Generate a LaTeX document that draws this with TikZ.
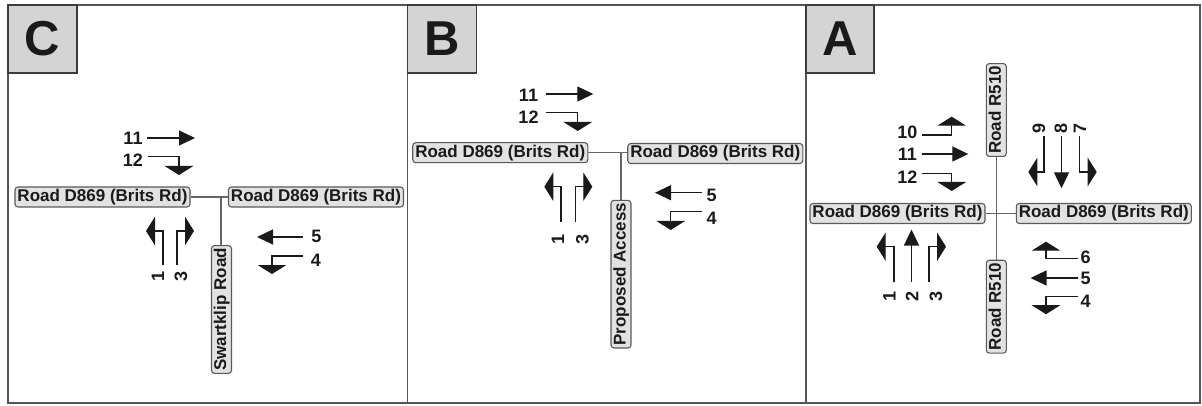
\documentclass[tikz,border=0pt]{standalone}
\usepackage{fontspec}
\setmainfont{Liberation Sans}
\usetikzlibrary{arrows.meta}
\definecolor{ink}{HTML}{1A1A1A}
\definecolor{framec}{HTML}{555555}
\definecolor{hdrfill}{HTML}{D4D4D4}
\definecolor{roadfill}{HTML}{E2E2E2}
\definecolor{roadedge}{HTML}{5A5A5A}
\definecolor{roadline}{HTML}{666666}
\begin{document}
\begin{tikzpicture}[x=1pt,y=-1pt,
  panel/.style={draw=framec,line width=1.5pt},
  hdr/.style={draw=ink!85,fill=hdrfill,line width=1.3pt,minimum width=69pt,minimum height=68pt,inner sep=0pt,
    font=\fontsize{49}{49}\selectfont\bfseries,text=ink},
  roadlbl/.style={draw=roadedge,fill=roadfill,rounded corners=3pt,line width=1.1pt,
    font=\fontsize{17}{20}\selectfont\bfseries,text=ink,inner xsep=2.5pt,inner ysep=2pt,
    text height=12.5pt,text depth=3.5pt},
  road/.style={draw=roadline,line width=1.3pt},
  mv/.style={draw=ink,line width=1.2pt},
  thru/.style={-{Triangle[length=16pt,width=15pt]}},
  turn/.style={-{Triangle[length=9pt,width=28.5pt]}},
  num/.style={font=\fontsize{18}{20}\selectfont\bfseries,text=ink,inner sep=0pt},
  rnum/.style={num,rotate=90}]
\useasboundingbox (0,0) rectangle (1202,406);
% ---------- frames ----------
\draw[panel] (8,5) rectangle (1200,403);
\draw[panel] (407.5,5) -- (407.5,403);
\draw[panel] (806,5) -- (806,403);
\node[hdr] (hC) at (42.5,39) {C};
\node[hdr] (hB) at (442,39) {B};
\node[hdr,minimum width=68pt] (hA) at (840,39) {A};

% ================= Panel C =================
\coordinate (cJ) at (221,197);
\node[roadlbl] (cW) at (102.5,197) {Road D869 (Brits Rd)};
\node[roadlbl] (cE) at (316,197) {Road D869 (Brits Rd)};
\node[roadlbl,rotate=90] (cS) at (221.5,309.5) {Swartklip Road};
\draw[road] (cW.east) -- (cE.west);
\draw[road] (cJ) -- (cJ |- cS.east);

\node[num] (c11) at (133,138.5) {11};
\coordinate (c11a) at (147,138); \coordinate (c11b) at (195,138);
\draw[mv,thru] (c11a) -- (c11b);
\node[num] (c12) at (133,160) {12};
\coordinate (c12a) at (148,156.5); \coordinate (c12b) at (179,175);
\draw[mv,turn] (c12a) -| (c12b);
\node[rnum] (c1) at (158,276) {1};
\coordinate (c1a) at (163,265); \coordinate (c1b) at (146,231);
\draw[mv,turn] (c1a) |- (c1b);
\node[rnum] (c3) at (181,276) {3};
\coordinate (c3a) at (177,265); \coordinate (c3b) at (194,231);
\draw[mv,turn] (c3a) |- (c3b);
\node[num] (c5) at (316.5,236.5) {5};
\coordinate (c5a) at (303,237); \coordinate (c5b) at (257,237);
\draw[mv,thru] (c5a) -- (c5b);
\node[num] (c4) at (316,260) {4};
\coordinate (c4a) at (303,256); \coordinate (c4b) at (272,274);
\draw[mv,turn] (c4a) -| (c4b);

% ================= Panel B =================
\coordinate (bJ) at (621,152.7);
\node[roadlbl] (bW) at (500.3,152.7) {Road D869 (Brits Rd)};
\node[roadlbl] (bE) at (715.3,153.5) {Road D869 (Brits Rd)};
\node[roadlbl,rotate=90] (bS) at (621,274.2) {Proposed Access};
\draw[road] (bW.east) -- (bE.west |- bJ);
\draw[road] (bJ) -- (bJ |- bS.east);

\node[num] (b11) at (528.5,95) {11};
\coordinate (b11a) at (545.7,94); \coordinate (b11b) at (593.3,94);
\draw[mv,thru] (b11a) -- (b11b);
\node[num] (b12) at (528.5,117) {12};
\coordinate (b12a) at (545.7,112.3); \coordinate (b12b) at (577.7,131);
\draw[mv,turn] (b12a) -| (b12b);
\node[rnum] (b1) at (558,239) {1};
\coordinate (b1a) at (561,221.7); \coordinate (b1b) at (544.3,186.7);
\draw[mv,turn] (b1a) |- (b1b);
\node[rnum] (b3) at (582.5,239) {3};
\coordinate (b3a) at (575.7,221.7); \coordinate (b3b) at (592.3,186.7);
\draw[mv,turn] (b3a) |- (b3b);
\node[num] (b5) at (711.7,195) {5};
\coordinate (b5a) at (701.7,192.7); \coordinate (b5b) at (655,192.7);
\draw[mv,thru] (b5a) -- (b5b);
\node[num] (b4) at (711.7,218) {4};
\coordinate (b4a) at (701.7,211.7); \coordinate (b4b) at (670.7,230);
\draw[mv,turn] (b4a) -| (b4b);

% ================= Panel A =================
\node[roadlbl] (aW) at (897.5,213.5) {Road D869 (Brits Rd)};
\node[roadlbl] (aE) at (1103.8,213.5) {Road D869 (Brits Rd)};
\node[roadlbl,rotate=90] (aN) at (996.3,110) {Road R510};
\node[roadlbl,rotate=90] (aS) at (996.3,306.7) {Road R510};
\draw[road] (aW.east) -- (aE.west);
\draw[road] (aN.west) -- (aS.east);

\node[num] (a10) at (907.3,132.7) {10};
\coordinate (a10a) at (921.7,135); \coordinate (a10b) at (951.7,116.7);
\draw[mv,turn] (a10a) -| (a10b);
\node[num] (a11) at (907.3,154) {11};
\coordinate (a11a) at (921.7,154); \coordinate (a11b) at (968.3,154);
\draw[mv,thru] (a11a) -- (a11b);
\node[num] (a12) at (907.3,177.5) {12};
\coordinate (a12a) at (921.7,173.3); \coordinate (a12b) at (951.7,191);
\draw[mv,turn] (a12a) -| (a12b);

\node[rnum] (a1) at (889.5,296.5) {1};
\coordinate (a1a) at (894,281.7); \coordinate (a1b) at (876.7,246.7);
\draw[mv,turn] (a1a) |- (a1b);
\node[rnum] (a2) at (912,296.5) {2};
\coordinate (a2a) at (911.5,281.7); \coordinate (a2b) at (911.5,229.5);
\draw[mv,thru] (a2a) -- (a2b);
\node[rnum] (a3) at (936,296.5) {3};
\coordinate (a3a) at (929,281.7); \coordinate (a3b) at (946,246.7);
\draw[mv,turn] (a3a) |- (a3b);

\node[rnum] (a9) at (1039,128.3) {9};
\coordinate (a9a) at (1044,136); \coordinate (a9b) at (1028.3,172);
\draw[mv,turn] (a9a) |- (a9b);
\node[rnum] (a8) at (1061,128.3) {8};
\coordinate (a8a) at (1061.5,136); \coordinate (a8b) at (1061.5,188.3);
\draw[mv,thru] (a8a) -- (a8b);
\node[rnum] (a7) at (1080,128.3) {7};
\coordinate (a7a) at (1079.5,136); \coordinate (a7b) at (1096.7,172);
\draw[mv,turn] (a7a) |- (a7b);

\node[num] (a6) at (1085.5,257) {6};
\coordinate (a6a) at (1078.3,258.3); \coordinate (a6b) at (1046,241.7);
\draw[mv,turn] (a6a) -| (a6b);
\node[num] (a5) at (1085.5,278) {5};
\coordinate (a5a) at (1078.3,278); \coordinate (a5b) at (1030.5,278);
\draw[mv,thru] (a5a) -- (a5b);
\node[num] (a4) at (1085.5,301) {4};
\coordinate (a4a) at (1078.3,296.7); \coordinate (a4b) at (1046,314.2);
\draw[mv,turn] (a4a) -| (a4b);
\end{tikzpicture}
\end{document}
